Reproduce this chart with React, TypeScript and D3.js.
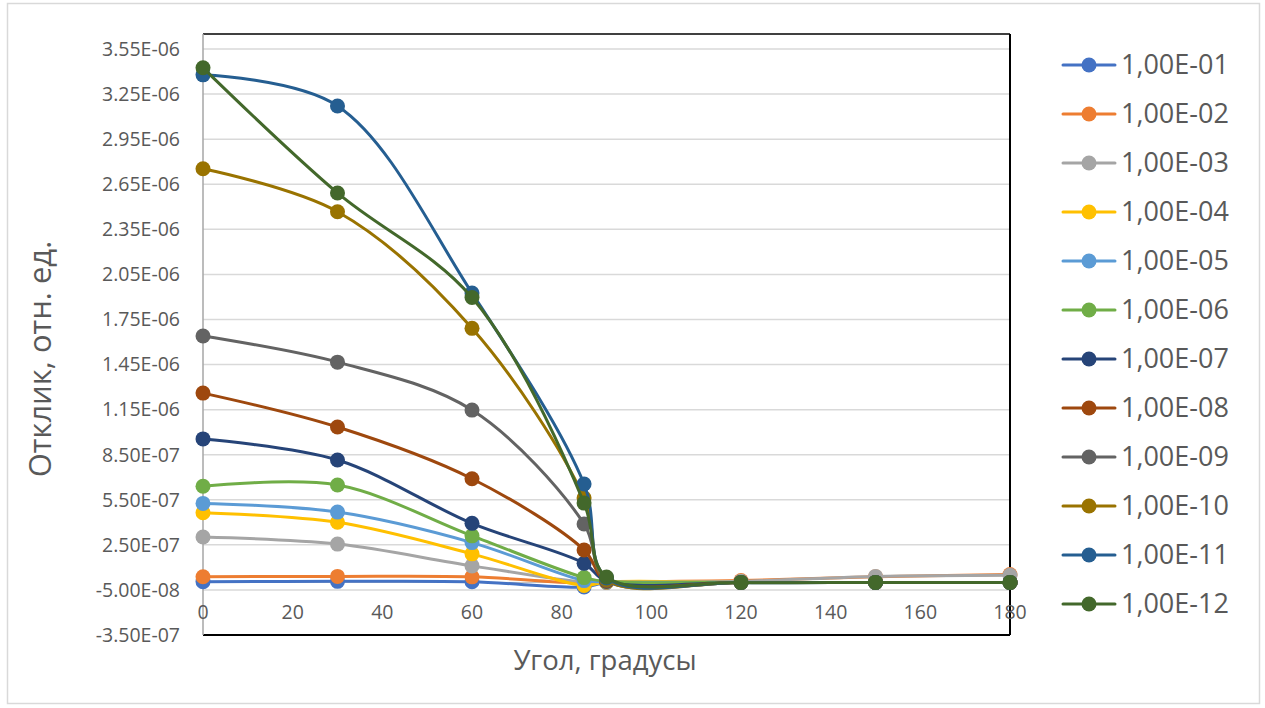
import React from 'react';
import * as d3 from 'd3';

// angles, degrees
const angles = [0, 30, 60, 85, 90, 120, 150, 180];

// response values in units of 1E-6
const s01 = [0.005, 0.007, 0.004, -0.03, 0.0, 0.0, 0.0, 0.0];
const s02 = [0.038, 0.040, 0.037, -0.005, 0.002, 0.012, 0.038, 0.052];
const s03 = [0.302, 0.255, 0.110, 0.002, 0.004, 0.008, 0.040, 0.048];
const s04 = [0.464, 0.400, 0.190, -0.02, 0.003, 0.0, 0.0, 0.0];
const s05 = [0.526, 0.468, 0.265, 0.012, 0.005, 0.0, 0.0, 0.0];
const s06 = [0.640, 0.648, 0.310, 0.032, 0.006, 0.0, 0.0, 0.0];
const s07 = [0.955, 0.815, 0.393, 0.127, 0.008, 0.0, 0.0, 0.0];
const s08 = [1.260, 1.034, 0.690, 0.216, 0.010, 0.0, 0.0, 0.0];
const s09 = [1.640, 1.466, 1.147, 0.389, 0.015, 0.0, 0.0, 0.0];
const s10 = [2.753, 2.467, 1.691, 0.562, 0.020, 0.0, 0.0, 0.0];
const s11 = [3.378, 3.171, 1.926, 0.655, 0.030, 0.0, 0.0, 0.0];
const s12 = [3.425, 2.592, 1.896, 0.528, 0.036, 0.0, 0.0, 0.0];

const seriesNames = [
  '1,00E-01', '1,00E-02', '1,00E-03', '1,00E-04', '1,00E-05', '1,00E-06',
  '1,00E-07', '1,00E-08', '1,00E-09', '1,00E-10', '1,00E-11', '1,00E-12'
];
const seriesValues = [s01, s02, s03, s04, s05, s06, s07, s08, s09, s10, s11, s12];
const colors = [
  '#4472C4', '#ED7D31', '#A5A5A5', '#FFC000', '#5B9BD5', '#70AD47',
  '#264478', '#9E480E', '#636363', '#997300', '#255E91', '#43682B'
];

// y ticks (1E-6 units) and their labels
const yTicks = [-0.35, -0.05, 0.25, 0.55, 0.85, 1.15, 1.45, 1.75, 2.05, 2.35, 2.65, 2.95, 3.25, 3.55];
const yTickLabels = [
  '-3.50E-07', '-5.00E-08', '2.50E-07', '5.50E-07', '8.50E-07', '1.15E-06', '1.45E-06',
  '1.75E-06', '2.05E-06', '2.35E-06', '2.65E-06', '2.95E-06', '3.25E-06', '3.55E-06'
];
const xTicks = [0, 20, 40, 60, 80, 100, 120, 140, 160, 180];

const W = 1265;
const H = 708;
const plot = { left: 203, right: 1010, top: 34, bottom: 635 };
const font = "'Open Sans', 'Liberation Sans', sans-serif";
const textColor = '#595959';

export default function App() {
  const x = d3.scaleLinear().domain([0, 180]).range([plot.left, plot.right]);
  const y = d3.scaleLinear().domain([-0.35, 3.65]).range([plot.bottom, plot.top]);

  const line = d3.line<[number, number]>()
    .x(d => x(d[0]))
    .y(d => y(d[1]))
    .curve(d3.curveCatmullRom.alpha(0.5));

  return (
    <svg width={W} height={H} style={{ position: 'absolute', left: 0, top: 0, fontFamily: font }}>
      <rect x={0} y={0} width={W} height={H} fill="#fff" />
      <rect x={7.5} y={3.5} width={1252} height={700} fill="none" stroke="#D9D9D9" strokeWidth={1.5} />

      {/* gridlines */}
      {yTicks.map(t => (
        <line key={t} x1={plot.left} x2={plot.right} y1={y(t)} y2={y(t)} stroke="#D9D9D9" strokeWidth={1.5} />
      ))}

      {/* frame */}
      <line x1={plot.left} x2={plot.right} y1={plot.top} y2={plot.top} stroke="#000" strokeWidth={1.5} />
      <line x1={plot.right} x2={plot.right} y1={plot.top} y2={plot.bottom} stroke="#000" strokeWidth={2} />
      <line x1={plot.left} x2={plot.right} y1={plot.bottom} y2={plot.bottom} stroke="#000" strokeWidth={2} />

      {/* axes */}
      <line x1={plot.left} x2={plot.left} y1={plot.top} y2={plot.bottom} stroke="#A6A6A6" strokeWidth={1.5} />
      <line x1={plot.left} x2={plot.right} y1={y(0)} y2={y(0)} stroke="#BFBFBF" strokeWidth={1} />

      {yTicks.map((t, i) => (
        <text key={t} x={180} y={y(t)} dy="0.35em" textAnchor="end" fontSize={19.5} fill={textColor}>
          {yTickLabels[i]}
        </text>
      ))}
      {xTicks.map(t => (
        <text key={t} x={x(t)} y={619} textAnchor="middle" fontSize={19.5} fill={textColor}>
          {t}
        </text>
      ))}

      {/* series */}
      {seriesValues.map((vals, i) => {
        const pts: [number, number][] = angles.map((a, j) => [a, vals[j]]);
        return (
          <g key={seriesNames[i]}>
            <path d={line(pts) || ''} fill="none" stroke={colors[i]} strokeWidth={3} strokeLinejoin="round" strokeLinecap="round" />
            {pts.map((p, j) => (
              <circle key={j} cx={x(p[0])} cy={y(p[1])} r={7.5} fill={colors[i]} />
            ))}
          </g>
        );
      })}

      {/* axis titles */}
      <text x={605} y={670} textAnchor="middle" fontSize={27.5} fill={textColor}>Угол, градусы</text>
      <text transform="translate(51,359) rotate(-90)" textAnchor="middle" fontSize={31} fill={textColor}>
        Отклик, отн. ед.
      </text>

      {/* legend */}
      {seriesNames.map((name, i) => {
        const ly = 65 + i * 49;
        return (
          <g key={name}>
            <line x1={1063} x2={1115} y1={ly} y2={ly} stroke={colors[i]} strokeWidth={3} strokeLinecap="round" />
            <circle cx={1089} cy={ly} r={7.5} fill={colors[i]} />
            <text x={1121} y={ly} dy="0.35em" fontSize={27} fill={textColor}>{name}</text>
          </g>
        );
      })}
    </svg>
  );
}
